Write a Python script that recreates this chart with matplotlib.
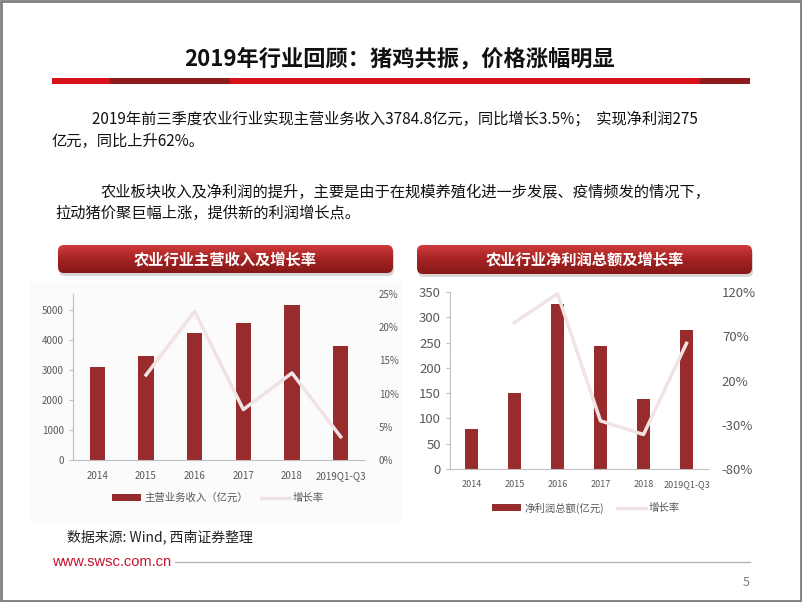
import numpy as np
import matplotlib
matplotlib.use("Agg")
from matplotlib import pyplot as plt
from matplotlib.patches import FancyBboxPatch, Rectangle
from matplotlib.colors import LinearSegmentedColormap
from matplotlib.ticker import FuncFormatter

plt.rcParams['font.family'] = ['Noto Sans CJK SC', 'DejaVu Sans']

# data
years = ['2014', '2015', '2016', '2017', '2018', '2019Q1-Q3']
revenue = [3078, 3456, 4222, 4556, 5156, 3785]          # 亿元
revenue_growth = [np.nan, 0.128, 0.224, 0.076, 0.131, 0.035]
profit = [80, 150, 327, 243, 139, 275]                  # 亿元
profit_growth = [np.nan, 0.855, 1.18, -0.256, -0.41, 0.62]

title = '2019年行业回顾：猪鸡共振，价格涨幅明显'
para1 = ['2019年前三季度农业行业实现主营业务收入3784.8亿元，同比增长3.5%；  实现净利润275',
         '亿元，同比上升62%。']
para2 = ['农业板块收入及净利润的提升，主要是由于在规模养殖化进一步发展、疫情频发的情况下，',
         '拉动猪价聚巨幅上涨，提供新的利润增长点。']

bar_c = '#982c2c'
line_c = '#f1e3e3'
tick_c = '#595959'
W, H = 802, 602

fig = plt.figure(figsize=(W / 100, H / 100), dpi=100)
bg = fig.add_axes([0, 0, 1, 1], zorder=0)
bg.set_xlim(0, W)
bg.set_ylim(H, 0)
bg.axis('off')


def fr(x0, y0, x1, y1):
    # pixel box -> figure fraction [left, bottom, width, height]
    return [x0 / W, 1 - y1 / H, (x1 - x0) / W, (y1 - y0) / H]


# slide border
bg.add_patch(Rectangle((1, 1), W - 2, H - 2, fill=False, ec='#7f7f7f', lw=2))

# title and red band
bg.text(400, 59, title, ha='center', va='center', fontsize=16, fontweight='bold', color='#111111')
bg.add_patch(Rectangle((52, 78), 698, 6, color='#d8121b', lw=0))
bg.add_patch(Rectangle((110, 78), 120, 6, color='#8e1c1c', lw=0))
bg.add_patch(Rectangle((700, 78), 50, 6, color='#8e1c1c', lw=0))

# paragraphs
bg.text(92, 119, para1[0], va='center', fontsize=11, color='#111111')
bg.text(52, 141, para1[1], va='center', fontsize=11, color='#111111')
bg.text(100, 192, para2[0], va='center', fontsize=11, color='#111111')
bg.text(55, 213, para2[1], va='center', fontsize=11, color='#111111')

# faint chart panel + footer box
bg.add_patch(Rectangle((30, 282), 372, 240, color='#fbfbfb', lw=0))
bg.add_patch(Rectangle((40, 522), 236, 30, color='white', lw=0))

hdr_cmap = LinearSegmentedColormap.from_list('hdr', ['#cf3b3b', '#a52323', '#861818'])


def header(x0, x1, y0, y1, txt):
    shadow = FancyBboxPatch((x0 + 1, y0 + 3), x1 - x0, y1 - y0,
                            boxstyle='round,pad=0,rounding_size=6',
                            fc='#bdbdbd', ec='none', alpha=0.6)
    bg.add_patch(shadow)
    box = FancyBboxPatch((x0, y0), x1 - x0, y1 - y0,
                         boxstyle='round,pad=0,rounding_size=6',
                         fc='none', ec='none')
    bg.add_patch(box)
    grad = np.linspace(0, 1, 50).reshape(-1, 1)
    im = bg.imshow(grad, extent=[x0, x1, y1, y0], cmap=hdr_cmap,
                   aspect='auto', origin='upper', zorder=2)
    im.set_clip_path(box)
    bg.text((x0 + x1) / 2, (y0 + y1) / 2, txt, ha='center', va='center',
            fontsize=11, fontweight='bold', color='white', zorder=3)


header(58, 393, 245, 273, '农业行业主营收入及增长率')
header(417, 752, 245, 274, '农业行业净利润总额及增长率')
bg.set_xlim(0, W)
bg.set_ylim(H, 0)

x = np.arange(len(years))
pct = FuncFormatter(lambda v, p: f'{v * 100:.0f}%')


def style(ax, ax2, ysize, xsize, rsize):
    for s in ['top', 'right']:
        ax.spines[s].set_visible(False)
    for s in ['top', 'right', 'left', 'bottom']:
        ax2.spines[s].set_visible(False)
    ax.spines['left'].set_color('#bfbfbf')
    ax.spines['bottom'].set_color('#bfbfbf')
    ax.set_facecolor('none')
    ax.tick_params(axis='y', colors='#bfbfbf', labelcolor=tick_c, labelsize=ysize, length=3)
    ax.tick_params(axis='x', length=0, labelcolor=tick_c, labelsize=xsize, pad=8)
    ax2.tick_params(axis='y', length=0, labelcolor=tick_c, labelsize=rsize, pad=10)
    ax.set_xticks(x)
    ax.set_xticklabels(years)
    ax.set_xlim(-0.5, len(years) - 0.5)


# left chart
ax1 = fig.add_axes(fr(73, 294, 365, 460), zorder=1)
b1 = ax1.bar(x, revenue, width=0.31, color=bar_c, label='主营业务收入（亿元）')
ax1.set_ylim(0, 5520)
ax1.set_yticks(range(0, 5001, 1000))
ax1r = ax1.twinx()
l1, = ax1r.plot(x, revenue_growth, color=line_c, lw=2.5, label='增长率')
ax1r.set_ylim(0, 0.25)
ax1r.set_yticks(np.arange(0, 0.251, 0.05))
ax1r.yaxis.set_major_formatter(pct)
style(ax1, ax1r, 7, 7, 7)
fig.legend([b1, l1], ['主营业务收入（亿元）', '增长率'], loc='center', ncol=2,
           bbox_to_anchor=(218 / W, 1 - 498 / H), frameon=False, fontsize=7.5,
           handlelength=2.8, handleheight=0.7, columnspacing=1.2, handletextpad=0.3,
           labelcolor=tick_c)

# right chart
ax2 = fig.add_axes(fr(450, 292, 708, 469), zorder=1)
b2 = ax2.bar(x, profit, width=0.31, color=bar_c)
ax2.set_ylim(0, 350)
ax2.set_yticks(range(0, 351, 50))
ax2r = ax2.twinx()
l2, = ax2r.plot(x, profit_growth, color=line_c, lw=2.5)
ax2r.set_ylim(-0.8, 1.2)
ax2r.set_yticks(np.arange(-0.8, 1.21, 0.5))
ax2r.yaxis.set_major_formatter(pct)
style(ax2, ax2r, 9.5, 6.5, 9.5)
fig.legend([b2, l2], ['净利润总额(亿元)', '增长率'], loc='center', ncol=2,
           bbox_to_anchor=(586 / W, 1 - 508 / H), frameon=False, fontsize=7.5,
           handlelength=2.8, handleheight=0.7, columnspacing=1.2, handletextpad=0.3,
           labelcolor=tick_c)

# footer
bg.text(67, 537, '数据来源: Wind, 西南证券整理', va='center', fontsize=10,
        color='#222222', zorder=3)
bg.text(52, 562, 'www.swsc.com.cn', va='center', fontsize=10.5,
        family='Liberation Sans', color='#c8102e')
bg.plot([175, 750], [562, 562], color='#b5b5b5', lw=1)
bg.text(750, 583, '5', ha='right', va='center', fontsize=9, color='#7f7f7f')

fig.savefig('out.png', dpi=100)
